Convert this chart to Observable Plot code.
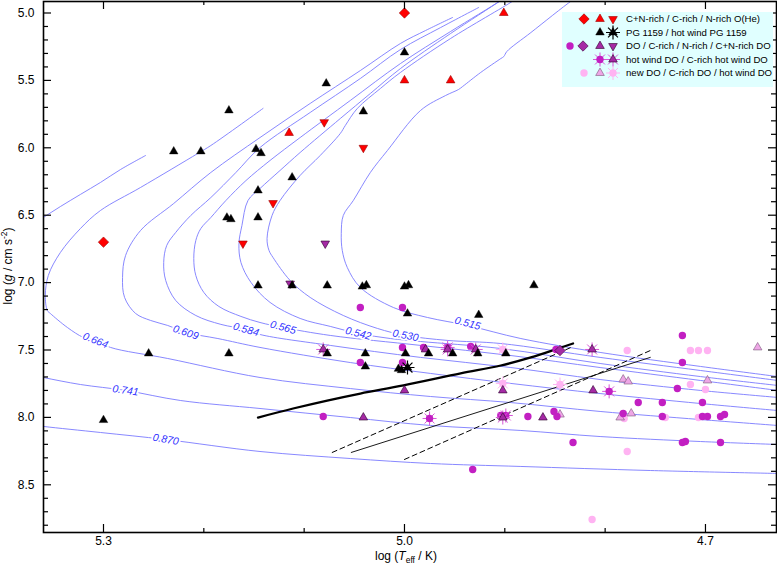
<!DOCTYPE html>
<html><head><meta charset="utf-8">
<script src="https://cdn.jsdelivr.net/npm/d3@7"></script>
<script src="https://cdn.jsdelivr.net/npm/@observablehq/plot@0.6"></script>
<style>body{margin:0;background:#fff;} svg{display:block}</style>
</head><body><div id="chart"></div>
<script>
// ---------- evolutionary tracks [log Teff, log g] ----------
const trackMasses = ["0.515","0.530","0.542","0.565","0.584","0.609","0.664","0.741","0.870"];
const trk515 = [[4.825,4.870],[4.833,4.907],[4.874,5.145],[4.898,5.286],[4.901,5.323],[4.904,5.338],[4.924,5.441],[4.942,5.545],[4.946,5.567],[4.959,5.612],[4.984,5.723],[5.017,6.020],[5.034,6.183],[5.051,6.391],[5.061,6.502],[5.063,6.636],[5.062,6.762],[5.057,6.888],[5.044,7.036],[5.011,7.185],[4.977,7.259],[4.937,7.318],[4.884,7.415],[4.805,7.518],[4.705,7.622],[4.628,7.697]];
const trk530 = [[4.884,4.870],[4.891,4.907],[4.954,5.189],[5.004,5.441],[5.024,5.560],[5.047,5.708],[5.059,5.835],[5.064,5.894],[5.084,6.057],[5.104,6.205],[5.124,6.391],[5.132,6.502],[5.137,6.673],[5.135,6.762],[5.131,6.814],[5.114,6.984],[5.094,7.110],[5.061,7.244],[5.027,7.340],[4.999,7.392],[4.957,7.429],[4.904,7.452],[4.805,7.555],[4.705,7.652],[4.628,7.726]];
const trk542 = [[4.897,4.870],[4.904,4.907],[4.954,5.152],[5.004,5.412],[5.034,5.597],[5.064,5.783],[5.104,6.035],[5.124,6.168],[5.144,6.302],[5.156,6.391],[5.162,6.576],[5.165,6.710],[5.163,6.851],[5.153,6.999],[5.134,7.147],[5.104,7.266],[5.074,7.325],[5.046,7.377],[5.014,7.415],[4.984,7.437],[4.904,7.489],[4.805,7.600],[4.705,7.697],[4.628,7.763]];
const trk565 = [[4.897,4.870],[4.904,4.907],[4.954,5.137],[5.004,5.375],[5.054,5.649],[5.104,5.924],[5.134,6.094],[5.158,6.243],[5.178,6.391],[5.193,6.517],[5.203,6.599],[5.208,6.688],[5.210,6.821],[5.208,6.947],[5.200,7.073],[5.185,7.177],[5.163,7.251],[5.144,7.296],[5.121,7.333],[5.074,7.392],[4.984,7.466],[4.894,7.541],[4.805,7.630],[4.705,7.726],[4.628,7.800]];
const trk584 = [[4.926,4.959],[4.964,5.108],[5.004,5.271],[5.044,5.486],[5.094,5.738],[5.144,5.998],[5.168,6.183],[5.193,6.369],[5.213,6.502],[5.228,6.628],[5.237,6.725],[5.240,6.851],[5.238,6.984],[5.228,7.133],[5.208,7.244],[5.183,7.310],[5.158,7.348],[5.144,7.385],[5.074,7.466],[4.984,7.555],[4.894,7.630],[4.805,7.719],[4.705,7.800],[4.628,7.852]];
const trk609 = [[4.952,5.033],[4.979,5.130],[5.004,5.226],[5.044,5.427],[5.094,5.671],[5.144,5.924],[5.193,6.183],[5.230,6.413],[5.263,6.613],[5.278,6.799],[5.281,6.962],[5.279,7.110],[5.268,7.229],[5.253,7.281],[5.236,7.318],[5.218,7.370],[5.186,7.415],[5.144,7.481],[5.054,7.593],[4.974,7.674],[4.894,7.748],[4.805,7.823],[4.705,7.897],[4.628,7.949]];
const trk664 = [[5.141,5.708],[5.193,5.983],[5.206,6.042],[5.263,6.294],[5.303,6.465],[5.323,6.599],[5.343,6.777],[5.355,6.947],[5.358,7.096],[5.356,7.207],[5.353,7.229],[5.336,7.333],[5.320,7.407],[5.308,7.429],[5.293,7.481],[5.236,7.563],[5.144,7.704],[5.054,7.786],[4.974,7.845],[4.894,7.890],[4.805,7.956],[4.705,8.016],[4.628,8.060]];
const trk741 = [[5.258,6.057],[5.283,6.161],[5.303,6.257],[5.323,6.346],[5.343,6.436],[5.360,6.517],[5.383,6.628],[5.413,7.133],[5.383,7.667],[5.360,7.704],[5.323,7.756],[5.278,7.800],[5.223,7.875],[5.144,7.934],[5.054,8.001],[4.974,8.060],[4.884,8.097],[4.805,8.142],[4.705,8.179],[4.628,8.201]];
const trk870 = [[5.383,8.045],[5.360,8.067],[5.303,8.112],[5.238,8.164],[5.144,8.253],[5.054,8.305],[4.974,8.342],[4.884,8.364],[4.755,8.394],[4.628,8.416]];
const trackLabelT = [4.937, 4.999, 5.046, 5.121, 5.158, 5.218, 5.308, 5.278, 5.238];
const trackLabelG = [7.303, 7.392, 7.377, 7.333, 7.348, 7.370, 7.429, 7.800, 8.164];

// ---------- other lines ----------
const thickLine = [[5.146,8.001],[5.111,7.934],[5.077,7.875],[5.044,7.823],[5.001,7.763],[4.944,7.674],[4.904,7.615],[4.874,7.555],[4.847,7.489],[4.832,7.452]];
const dashedUpper = [[5.072,8.260],[4.834,7.481]];
const thinSolid = [[5.053,8.260],[4.755,7.555]];
const dashedLower = [[5.000,8.312],[4.755,7.504]];

// ---------- stars [log Teff, log g] ----------
const oheCN = [[5.000,5.00],[5.300,6.70]];
const oheC = [[4.901,5.00],[5.000,5.50],[4.954,5.50],[5.115,5.89]];
const oheN = [[5.080,5.81],[5.041,6.00],[5.131,6.41],[5.161,6.71]];
const pg1159 = [[5.175,5.723],[5.230,6.027],[5.203,6.027],[5.148,6.010],[5.143,6.040],[5.146,6.317],[5.078,5.523],[5.041,5.731],[5.000,5.293],[5.112,6.220],[5.177,6.518],[5.173,6.530],[5.146,6.517],[5.146,7.022],[5.255,7.526],[5.175,7.526],[5.112,7.022],[5.077,7.022],[5.042,7.030],[5.038,7.020],[5.000,7.030],[4.996,7.020],[4.997,7.230],[4.926,7.240],[4.871,7.020],[5.300,8.020],[5.077,7.526],[5.039,7.526],[5.039,7.623],[4.999,7.526],[4.976,7.526],[4.952,7.526],[4.927,7.526],[4.899,7.526],[5.003,7.650],[5.006,7.640]];
const pg1159Wind = [[4.997,7.630]];
const doPlain = [[5.044,7.185],[5.002,7.185],[5.002,7.481],[4.981,7.481],[4.934,7.474],[5.044,7.593],[5.002,7.593],[5.081,7.993],[4.932,8.386],[4.723,7.392],[4.723,7.593],[4.728,7.786],[4.767,7.890],[4.743,7.890],[4.703,7.890],[4.877,7.993],[4.851,7.956],[4.848,7.993],[4.782,7.971],[4.743,7.993],[4.703,7.993],[4.698,7.993],[4.685,7.993],[4.681,7.978],[4.832,8.186],[4.723,8.186],[4.720,8.179],[4.685,8.186],[4.849,7.496],[4.904,7.986]];
const doDiamond = [[4.845,7.504]];
const doTriUp = [[4.979,7.496],[5.041,8.001],[5.000,7.800],[4.902,7.800],[4.862,8.001],[4.812,7.800]];
const doTriDown = [[5.079,6.710],[5.114,7.007]];
const doWind = [[4.975,8.008],[4.899,7.986],[4.796,7.807],[4.957,7.481]];
const doCWind = [[5.081,7.496],[4.957,7.496],[4.929,7.496],[4.813,7.496],[4.902,8.001]];
const newDO = [[4.778,7.504],[4.715,7.504],[4.707,7.504],[4.698,7.504],[4.715,7.756],[4.700,7.793],[4.740,8.001],[4.707,8.001],[4.778,8.253],[4.813,8.757],[4.781,8.008]];
const newDOC = [[4.648,7.481],[4.698,7.726],[4.782,7.719],[4.777,7.734],[4.845,7.979],[4.785,8.001],[4.774,7.971]];
const newDOWind = [[4.902,7.496],[4.902,7.748],[4.845,7.756]];

// ---------- ticks ----------
const xMajorTicks = [5.3, 5.0, 4.7];
const xMinorTicks = [5.2, 5.1, 4.9, 4.8];
const yMajorTicks = [5.0, 5.5, 6.0, 6.5, 7.0, 7.5, 8.0, 8.5];
const yMinorTicks = [5.1,5.2,5.3,5.4,5.6,5.7,5.8,5.9,6.1,6.2,6.3,6.4,6.6,6.7,6.8,6.9,7.1,7.2,7.3,7.4,7.6,7.7,7.8,7.9,8.1,8.2,8.3,8.4,8.6,8.7,8.8];

const legendTexts = ["C+N-rich / C-rich / N-rich O(He)","PG 1159 / hot wind PG 1159","DO / C-rich / N-rich / C+N-rich DO","hot wind DO / C-rich hot wind DO","new DO / C-rich DO / hot wind DO"];

// ---------- build ----------
const tracks = [trk515,trk530,trk542,trk565,trk584,trk609,trk664,trk741,trk870];
const trackRows = tracks.flatMap((t,i) => t.map(p => ({mass: trackMasses[i], T: p[0], g: p[1]})));
const labelAngles = [15, 11, 14, 15, 15, 18, 22, 8, 10];
const labelRows = trackMasses.map((m,i) => ({mass: m, T: trackLabelT[i], g: trackLabelG[i], angle: labelAngles[i]}));

const symTriUp = {draw(c, s){const a=Math.sqrt(s/Math.PI), h=a*Math.sqrt(3); c.moveTo(0,-2*h/3); c.lineTo(a,h/3); c.lineTo(-a,h/3); c.closePath();}};
const symTriDown = {draw(c, s){const a=Math.sqrt(s/Math.PI), h=a*Math.sqrt(3); c.moveTo(0,2*h/3); c.lineTo(a,-h/3); c.lineTo(-a,-h/3); c.closePath();}};
const symDiamond = {draw(c, s){const a=Math.sqrt(s/Math.PI); c.moveTo(0,-a); c.lineTo(a,0); c.lineTo(0,a); c.lineTo(-a,0); c.closePath();}};
const symStar = {draw(c, s){const a=Math.sqrt(s/Math.PI); for (let k=0;k<4;k++){const t=k*Math.PI/4; c.moveTo(a*Math.cos(t),a*Math.sin(t)); c.lineTo(-a*Math.cos(t),-a*Math.sin(t));}}};
const symCircle = {draw(c, s){const a=Math.sqrt(s/Math.PI); c.moveTo(a,0); c.arc(0,0,a,0,2*Math.PI);}};

const MAG = "#c21fc2", MAGT = "#a52aa5", PINK = "#ffb3f2";
const glyphs = {
  oheCN: [{symbol: symDiamond, r:5.2, fill:"#ff0000", stroke:"#9a0000", strokeWidth:0.6}],
  oheC: [{symbol: symTriUp, r:4.3, fill:"#ff0000", stroke:"#9a0000", strokeWidth:0.6}],
  oheN: [{symbol: symTriDown, r:4.3, fill:"#ff0000", stroke:"#9a0000", strokeWidth:0.6}],
  pg: [{symbol: symTriUp, r:4.3, fill:"#000", stroke:"#000", strokeWidth:0.4}],
  pgWind: [{symbol: symTriUp, r:4.3, fill:"#000", stroke:"#000", strokeWidth:0.4},{symbol: symStar, r:7, fill:"none", stroke:"#000", strokeWidth:1.2}],
  doO: [{symbol: symCircle, r:3.7, fill:MAG, stroke:"none", strokeWidth:0}],
  doDia: [{symbol: symDiamond, r:5.2, fill:MAGT, stroke:"#3a003a", strokeWidth:0.6}],
  doUp: [{symbol: symTriUp, r:4.3, fill:MAGT, stroke:"#2a002a", strokeWidth:0.6}],
  doDown: [{symbol: symTriDown, r:4.3, fill:MAGT, stroke:"#2a002a", strokeWidth:0.6}],
  doWind: [{symbol: symStar, r:7, fill:"none", stroke:"#d855d8", strokeWidth:1},{symbol: symCircle, r:3.7, fill:MAG, stroke:"none", strokeWidth:0}],
  doCWind: [{symbol: symStar, r:7, fill:"none", stroke:"#d855d8", strokeWidth:1},{symbol: symTriUp, r:4.3, fill:MAGT, stroke:"#2a002a", strokeWidth:0.6}],
  newDO: [{symbol: symCircle, r:3.7, fill:PINK, stroke:"none", strokeWidth:0}],
  newDOC: [{symbol: symTriUp, r:4.3, fill:"#eea6e6", stroke:"#7a587a", strokeWidth:0.6}],
  newDOWind: [{symbol: symStar, r:7, fill:"none", stroke:PINK, strokeWidth:1},{symbol: symCircle, r:3.7, fill:PINK, stroke:"none", strokeWidth:0}]
};
const dotMarks = (data, g) => glyphs[g].map(o => Plot.dot(data, {x: d => d[0], y: d => d[1], ...o}));
const lineOpts = {x: d => d[0], y: d => d[1]};

const chart = Plot.plot({
  width: 777, height: 566,
  marginTop: 1, marginRight: 1, marginBottom: 34, marginLeft: 43,
  style: {fontFamily: "'Liberation Sans', Arial, sans-serif", fontSize: "12px", background: "#fff", color: "#000", overflow: "visible"},
  x: {domain: [5.3598, 4.6292]},
  y: {domain: [4.9147, 8.8539], reverse: true},
  marks: [
    Plot.line(trackRows, {x: "T", y: "g", z: "mass", stroke: "#7a7aff", strokeWidth: 0.9, curve: "catmull-rom", clip: true}),
    Plot.text(labelRows, {x: "T", y: "g", text: "mass", rotate: "angle", fill: "#3030ff", stroke: "white", strokeWidth: 3.5, paintOrder: "stroke", fontSize: 10.5, fontStyle: "italic"}),
    Plot.line(dashedUpper, {...lineOpts, stroke: "#000", strokeWidth: 1, strokeDasharray: "5,3.5"}),
    Plot.line(dashedLower, {...lineOpts, stroke: "#000", strokeWidth: 1, strokeDasharray: "5,3.5"}),
    Plot.line(thinSolid, {...lineOpts, stroke: "#000", strokeWidth: 0.9}),
    Plot.line(thickLine, {...lineOpts, stroke: "#000", strokeWidth: 2.3, curve: "catmull-rom"}),
    ...dotMarks(newDO, "newDO"),
    ...dotMarks(newDOC, "newDOC"),
    ...dotMarks(newDOWind, "newDOWind"),
    ...dotMarks(doPlain, "doO"),
    ...dotMarks(doDiamond, "doDia"),
    ...dotMarks(doTriUp, "doUp"),
    ...dotMarks(doTriDown, "doDown"),
    ...dotMarks(doWind, "doWind"),
    ...dotMarks(doCWind, "doCWind"),
    ...dotMarks(pg1159, "pg"),
    ...dotMarks(pg1159Wind, "pgWind"),
    ...dotMarks(oheCN, "oheCN"),
    ...dotMarks(oheC, "oheC"),
    ...dotMarks(oheN, "oheN"),
    Plot.tickX(xMajorTicks, {x: d => d, insetTop: 523, stroke: "#000", strokeWidth: 1.2}),
    Plot.tickX(xMajorTicks, {x: d => d, insetBottom: 523, stroke: "#000", strokeWidth: 1.2}),
    Plot.tickX(xMinorTicks, {x: d => d, insetTop: 527, stroke: "#000", strokeWidth: 1.2}),
    Plot.tickX(xMinorTicks, {x: d => d, insetBottom: 527, stroke: "#000", strokeWidth: 1.2}),
    Plot.tickY(yMajorTicks, {y: d => d, insetRight: 725, stroke: "#000", strokeWidth: 1.2}),
    Plot.tickY(yMajorTicks, {y: d => d, insetLeft: 725, stroke: "#000", strokeWidth: 1.2}),
    Plot.tickY(yMinorTicks, {y: d => d, insetRight: 728, stroke: "#000", strokeWidth: 1.2}),
    Plot.tickY(yMinorTicks, {y: d => d, insetLeft: 728, stroke: "#000", strokeWidth: 1.2}),
    Plot.axisX({ticks: xMajorTicks, tickSize: 0, tickPadding: 4, tickFormat: d3.format(".1f"), label: null, fontSize: 12}),
    Plot.axisY({ticks: yMajorTicks, tickSize: 0, tickPadding: 9, tickFormat: d3.format(".1f"), label: null, fontSize: 12}),
    Plot.frame({stroke: "#000", strokeWidth: 1.6})
  ]
});

// ---------- legend & axis titles ----------
const svg = d3.select(chart);
const leg = svg.append("g").attr("text-anchor", "start");
leg.append("rect").attr("x", 562).attr("y", 12).attr("width", 211).attr("height", 75).attr("fill", "#e0ffff");
const legendRowY = [19, 32.5, 46, 59.5, 73];
const legendItems = [
  [[584,"oheCN"],[600,"oheC"],[613,"oheN"]],
  [[600,"pg"],[613,"pgWind"]],
  [[570,"doO"],[583,"doDia"],[600,"doUp"],[613,"doDown"]],
  [[600,"doWind"],[613,"doCWind"]],
  [[584,"newDO"],[600,"newDOC"],[613,"newDOWind"]]
];
legendItems.forEach((row, i) => {
  row.forEach(([x, g]) => {
    glyphs[g].forEach(o => {
      leg.append("path").attr("d", d3.symbol(o.symbol, o.r*o.r*Math.PI)())
        .attr("transform", `translate(${x},${legendRowY[i]})`)
        .attr("fill", o.fill).attr("stroke", o.stroke || "none").attr("stroke-width", o.strokeWidth || 0);
    });
  });
  leg.append("text").attr("x", 626).attr("y", legendRowY[i]).attr("dy", "0.36em")
    .attr("text-anchor", "start").attr("font-size", 9.6).attr("fill", "#000").text(legendTexts[i]);
});

const xt = svg.append("text").attr("x", 406).attr("y", 560).attr("text-anchor", "middle").attr("font-size", 12).attr("fill", "#000");
xt.append("tspan").text("log (");
xt.append("tspan").attr("font-style", "italic").text("T");
xt.append("tspan").attr("font-size", 8.5).attr("dy", 3).text("eff");
xt.append("tspan").attr("dy", -3).text(" / K)");

const yt = svg.append("text").attr("transform", "translate(12,266) rotate(-90)").attr("text-anchor", "middle").attr("font-size", 12).attr("fill", "#000");
yt.append("tspan").text("log (");
yt.append("tspan").attr("font-style", "italic").text("g");
yt.append("tspan").text(" / cm s");
yt.append("tspan").attr("font-size", 8.5).attr("dy", -5).text("-2");
yt.append("tspan").attr("dy", 5).text(")");

document.getElementById("chart").append(chart);
</script></body></html>
